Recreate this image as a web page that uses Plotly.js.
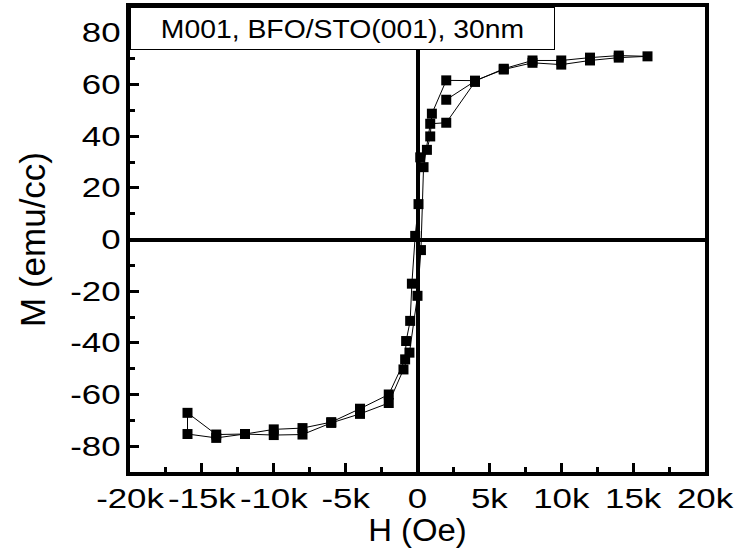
<!DOCTYPE html>
<html>
<head>
<meta charset="utf-8">
<script src="https://cdn.plot.ly/plotly-3.0.1.min.js"></script>
<style>
  html, body { margin: 0; padding: 0; background: #fff; }
  #chart { width: 746px; height: 548px; }
</style>
</head>
<body>
<div id="chart"></div>
<script>
// Magnetisation loop M(H) of a 30 nm BFO film on STO(001), sample M001.
// The sweep is one continuous measurement, kept here in three legs.

// leg 1: from +2 kOe up to +16 kOe
const H_initial = [2000, 4000, 6000, 8000, 10000, 12000, 14000, 16000];
const M_initial = [54.1, 61.3, 66.1, 69.3, 69.3, 70.4, 71.2, 70.9];

// leg 2: from +16 kOe down to -16 kOe
const H_down = [14000, 12000, 10000, 8000, 6000, 4000, 2000, 1000, 885, 655, 190, 70,
                -160, -390, -510, -790, -860, -2000, -4000, -6000, -8000, -10000,
                -12000, -14000, -16000];
const M_down = [70.4, 69.3, 67.7, 68.4, 65.8, 61.5, 61.6, 48.7, 39.9, 34.7, 31.8, 13.7,
                1.4, -17.1, -31.5, -39.3, -46.4, -60.0, -65.5, -70.7, -73.0, -73.5,
                -75.3, -75.5, -67.1];

// leg 3: from -16 kOe back up to +4 kOe
const H_up = [-16000, -14000, -12000, -10000, -8000, -6000, -4000, -2000, -975, -560,
              0, 240, 420, 885, 2000, 4000];
const M_up = [-75.3, -76.8, -75.3, -75.7, -75.5, -71.0, -67.5, -63.3, -50.3, -43.8,
              -21.8, -4.1, 28.0, 44.8, 45.2, 61.0];

// axis ticks
const xTickVals = [-20000, -15000, -10000, -5000, 0, 5000, 10000, 15000, 20000];
const xTickText = ['-20k', '-15k', '-10k', '-5k', '0', '5k', '10k', '15k', '20k'];
const yTickVals = [-80, -60, -40, -20, 0, 20, 40, 60, 80];
const yTickText = ['-80', '-60', '-40', '-20', '0', '20', '40', '60', '80'];

const sampleLabel = 'M001, BFO/STO(001), 30nm';

const H = H_initial.concat(H_down, H_up);
const M = M_initial.concat(M_down, M_up);

const FONT = 'Liberation Sans, Arial, sans-serif';

const trace = {
  x: H,
  y: M,
  type: 'scatter',
  mode: 'lines+markers',
  line: { color: '#000', width: 1 },
  marker: { symbol: 'square', size: 10, color: '#000' },
  showlegend: false,
  hoverinfo: 'x+y'
};

const axisCommon = {
  showgrid: false,
  showline: true,
  linecolor: '#000',
  linewidth: 4,
  mirror: true,
  ticks: 'inside',
  ticklen: 9,
  tickwidth: 3,
  tickcolor: '#000',
  zeroline: true,
  zerolinecolor: '#000',
  zerolinewidth: 4,
  tickmode: 'array',
  tickfont: { family: FONT, size: 27, color: '#000' }
};

const layout = {
  width: 746,
  height: 548,
  margin: { l: 130, r: 41, t: 7, b: 76 },
  paper_bgcolor: '#fff',
  plot_bgcolor: '#fff',
  font: { family: FONT, color: '#000' },
  xaxis: Object.assign({}, axisCommon, {
    range: [-20000, 20000],
    tickvals: xTickVals,
    ticktext: xTickText,
    ticklabelstandoff: 0,
    minor: { ticks: 'inside', dtick: 2500, ticklen: 5, tickwidth: 3, tickcolor: '#000' },
    title: { text: 'H (Oe)', font: { family: FONT, size: 31, color: '#000' }, standoff: 0 }
  }),
  yaxis: Object.assign({}, axisCommon, {
    range: [-90, 90],
    tickvals: yTickVals,
    ticktext: yTickText,
    minor: { ticks: 'inside', dtick: 10, ticklen: 5, tickwidth: 3, tickcolor: '#000' },
    title: { text: 'M (emu/cc)', font: { family: FONT, size: 35, color: '#000' }, standoff: 26 }
  }),
  annotations: [{
    xref: 'paper', yref: 'paper',
    x: 0.3695, y: 0.9538,
    xanchor: 'center', yanchor: 'middle',
    text: sampleLabel,
    showarrow: false,
    font: { family: FONT, size: 26, color: '#000' },
    bgcolor: '#fff',
    bordercolor: '#000',
    borderwidth: 1,
    borderpad: 0,
    width: 423,
    height: 41
  }]
};

// the lettering of this figure is set wide; stretch each label horizontally
function widen(gd, selector, factor) {
  gd.querySelectorAll(selector).forEach(function (t) {
    const w = t.getComputedTextLength();
    if (w > 0) {
      t.setAttribute('textLength', (w * factor).toFixed(2));
      t.setAttribute('lengthAdjust', 'spacingAndGlyphs');
    }
  });
}

Plotly.newPlot('chart', [trace], layout, { staticPlot: true, displayModeBar: false })
  .then(function (gd) {
    widen(gd, '.xtick text', 1.29);
    widen(gd, '.ytick text', 1.29);
    widen(gd, '.annotation-text', 1.09);
    widen(gd, '.g-xtitle text', 1.06);
  });
</script>
</body>
</html>
